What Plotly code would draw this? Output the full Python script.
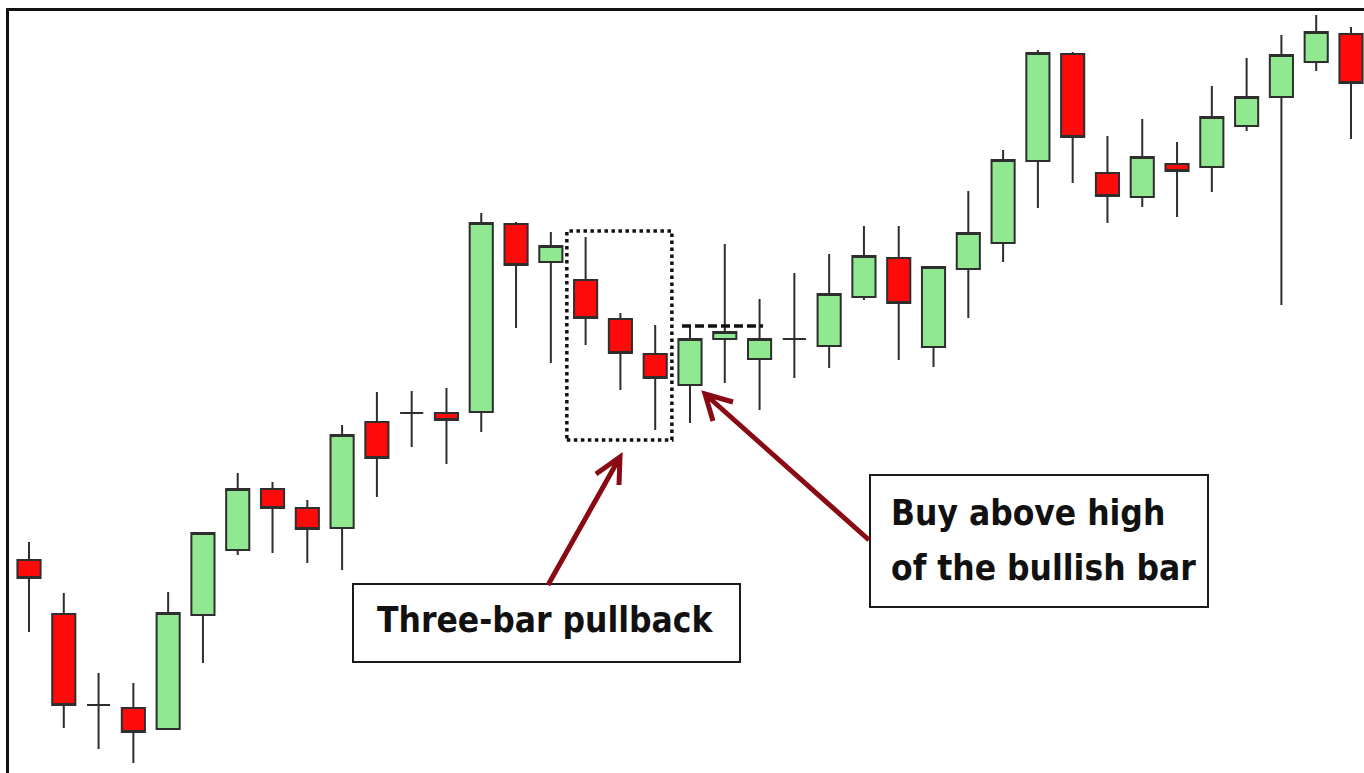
import plotly.graph_objects as go

# ---------------- data (price units) ----------------
idx = list(range(39))
open_ = [213, 159, 68, 65, 44, 158, 223, 284, 265, 245, 351, 360, 360, 361, 549, 511, 493, 454, 419, 388,
         434, 414, 434, 427, 476, 515, 426, 504, 530, 612, 719, 600, 576, 609, 606, 647, 676, 711, 739]
high = [231, 180, 100, 90, 181, 241, 300, 291, 273, 348, 381, 382, 385, 560, 551, 541, 536, 460, 448, 446,
        529, 474, 500, 519, 547, 547, 506, 582, 623, 723, 721, 637, 654, 631, 687, 715, 738, 758, 746]
low = [141, 45, 24, 10, 44, 110, 218, 220, 210, 203, 276, 326, 309, 341, 445, 410, 428, 383, 343, 350,
       390, 363, 395, 405, 473, 413, 406, 455, 511, 565, 590, 550, 566, 556, 581, 642, 468, 702, 634]
close = [195, 68, 68, 41, 160, 240, 284, 265, 244, 338, 315, 360, 353, 550, 508, 527, 455, 420, 395, 434,
         441, 434, 434, 479, 517, 470, 506, 540, 613, 720, 636, 577, 616, 602, 656, 676, 718, 741, 690]

label_pullback = "Three-bar pullback"
label_buy_1 = "Buy above high"
label_buy_2 = "of the bullish bar"

# ---------------- layout geometry ----------------
W_PX, H_PX = 1364, 773
L, T = 10, 12
PLOT_W = W_PX - L
X0, X1 = -0.546, 38.374
Y0, Y1 = 0, H_PX - T


def px_x(px):
    return X0 + (px - L) / PLOT_W * (X1 - X0)


def px_y(py):
    return H_PX - py


fig = go.Figure()
fig.add_trace(go.Candlestick(
    x=idx, open=open_, high=high, low=low, close=close,
    increasing=dict(fillcolor="#90e890", line=dict(color="#2e2e2e", width=2)),
    decreasing=dict(fillcolor="#ff0a0a", line=dict(color="#2e2e2e", width=2)),
    whiskerwidth=0, showlegend=False, hoverinfo="skip",
))

shapes = []
# frame (left and top)
ytop = 1 + (T - 9.5) / (H_PX - T)
xleft = (7.5 - L) / PLOT_W
shapes.append(dict(type="line", xref="paper", yref="paper",
                   x0=xleft - 0.001, x1=1.0, y0=ytop, y1=ytop,
                   line=dict(color="#111", width=3)))
shapes.append(dict(type="line", xref="paper", yref="paper",
                   x0=xleft, x1=xleft, y0=0, y1=ytop,
                   line=dict(color="#111", width=3)))

# dotted rectangle around the three-bar pullback (bars 16..18)
shapes.append(dict(type="rect", xref="x", yref="y",
                   x0=16 - 0.54, x1=18 + 0.48, y0=low[18] - 10, y1=high[16] + 6,
                   line=dict(color="#111", width=3.5, dash="3.5px,3.5px")))
# dashed line above the bullish bar (bar 19)
shapes.append(dict(type="line", xref="x", yref="y",
                   x0=19 - 0.23, x1=21 + 0.1, y0=high[19] + 1, y1=high[19] + 1,
                   line=dict(color="#111", width=3.5, dash="9px,4px")))

# text boxes
for (bx0, by0, bx1, by1) in [(353, 584, 740, 662), (870, 475, 1208, 607)]:
    shapes.append(dict(type="rect", xref="x", yref="y",
                       x0=px_x(bx0), x1=px_x(bx1), y0=px_y(by1), y1=px_y(by0),
                       fillcolor="white", line=dict(color="#1a1a1a", width=2), layer="above"))


# arrows (shaft + open chevron head)
def arrow(tail, tip, w1, w2):
    pts = [tail, tip, w1, w2]
    (a, b, c, d) = [(px_x(p[0]), px_y(p[1])) for p in pts]
    path = (f"M {a[0]},{a[1]} L {b[0]},{b[1]} "
            f"M {c[0]},{c[1]} L {b[0]},{b[1]} L {d[0]},{d[1]}")
    return dict(type="path", xref="x", yref="y", path=path,
                line=dict(color="#8a0a14", width=5))


shapes.append(arrow((548, 585), (620, 457), (596, 474), (619, 485)))
shapes.append(arrow((869, 540), (705, 394), (733, 402), (713, 421)))

font_family = "DejaVu Sans Condensed, Liberation Sans Narrow, Arial Narrow, sans-serif"
tfont = dict(family=font_family, size=35, color="#111", weight="bold")
annotations = [
    dict(x=px_x(375), y=px_y(620), xref="x", yref="y", text=label_pullback,
         showarrow=False, xanchor="left", yanchor="middle", align="left", font=tfont),
    dict(x=px_x(889), y=px_y(513), xref="x", yref="y", text=label_buy_1,
         showarrow=False, xanchor="left", yanchor="middle", align="left", font=tfont),
    dict(x=px_x(889), y=px_y(568), xref="x", yref="y", text=label_buy_2,
         showarrow=False, xanchor="left", yanchor="middle", align="left", font=tfont),
]

fig.update_layout(
    width=W_PX, height=H_PX,
    margin=dict(l=L, r=0, t=T, b=0, pad=0),
    paper_bgcolor="white", plot_bgcolor="white",
    xaxis=dict(range=[X0, X1], visible=False, rangeslider=dict(visible=False), fixedrange=True),
    yaxis=dict(range=[Y0, Y1], visible=False, fixedrange=True),
    boxgap=0.05,
    shapes=shapes, annotations=annotations,
    showlegend=False,
)

fig.write_html("out.html", config={"displayModeBar": False},
               post_script="document.body.style.margin='0';document.body.style.overflow='hidden';")
